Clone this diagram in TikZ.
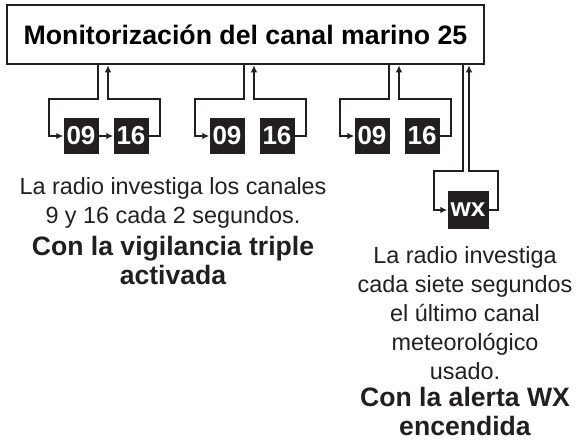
\documentclass[tikz,border=0pt]{standalone}
\usepackage{fontspec}
\setmainfont{Liberation Sans}
\usetikzlibrary{arrows.meta}
\definecolor{tinta}{HTML}{231F20}

\tikzset{
  canal/.style={fill=tinta, text=white, inner sep=0pt, minimum width=35pt, minimum height=36pt,
    font=\fontsize{26}{26}\selectfont\bfseries},
  lazo/.style={draw=tinta, line width=2pt},
  flecha/.style={lazo, -{Latex[length=7pt,width=6.5pt]}},
  nota/.style={align=center, text=tinta, font=\fontsize{23.4}{29}\selectfont},
  aviso/.style={align=center, text=tinta, inner sep=1pt, font=\fontsize{26.6}{29}\selectfont\bfseries}
}

\begin{document}
\begin{tikzpicture}[x=1pt, y=-1pt]
  \useasboundingbox (0,0) rectangle (576,440);
  % title box
  \node[draw=tinta, line width=2.5pt, minimum width=477pt, minimum height=59pt, inner sep=0pt] (mon) at (245.5,34.5)
    {\fontsize{26.7}{26}\selectfont\bfseries Monitorización del canal marino 25};
  % triple watch: three loops 09 / 16
  \foreach \g/\x in {1/49,2/195,3/340} {
    \node[canal] (c09\g) at (\x+32,136) {09};
    \node[canal] (c16\g) at (\x+82,136) {16};
    \coordinate (bajo\g) at (\x+49,99);
    \coordinate (izq\g) at (\x,99);
    \coordinate (der\g) at (\x+111,99);
    \coordinate (sube\g) at (\x+59,99);
    \draw[flecha] (mon.south -| bajo\g) -- (bajo\g) -- (izq\g) |- (c09\g.west);
    \draw[flecha] (c16\g.east) -| (der\g) -- (sube\g) -- (mon.south -| sube\g);
  }
  \draw[flecha] (c091.east) -- (c161.west);
  % WX alert loop
  \node[canal, minimum width=41pt, minimum height=38pt] (wx) at (468,210) {wx};
  \coordinate (bajowx) at (463,171);
  \coordinate (izqwx) at (434,171);
  \coordinate (derwx) at (498,171);
  \coordinate (subewx) at (469,171);
  \draw[flecha] (mon.south -| bajowx) -- (bajowx) -- (izqwx) |- (wx.west);
  \draw[flecha] (wx.east) -| (derwx) -- (subewx) -- (mon.south -| subewx);
  % notes
  \node[nota] (nota1) at (173,203) {La radio investiga los canales\\9 y 16 cada 2 segundos.};
  \node[aviso] (aviso1) at (173,260) {Con la vigilancia triple\\activada};
  \node[nota] (nota2) at (465,313) {La radio investiga\\cada siete segundos\\el último canal\\meteorológico\\usado.};
  \node[aviso] (aviso2) at (465,411) {Con la alerta WX\\encendida};
\end{tikzpicture}
\end{document}
